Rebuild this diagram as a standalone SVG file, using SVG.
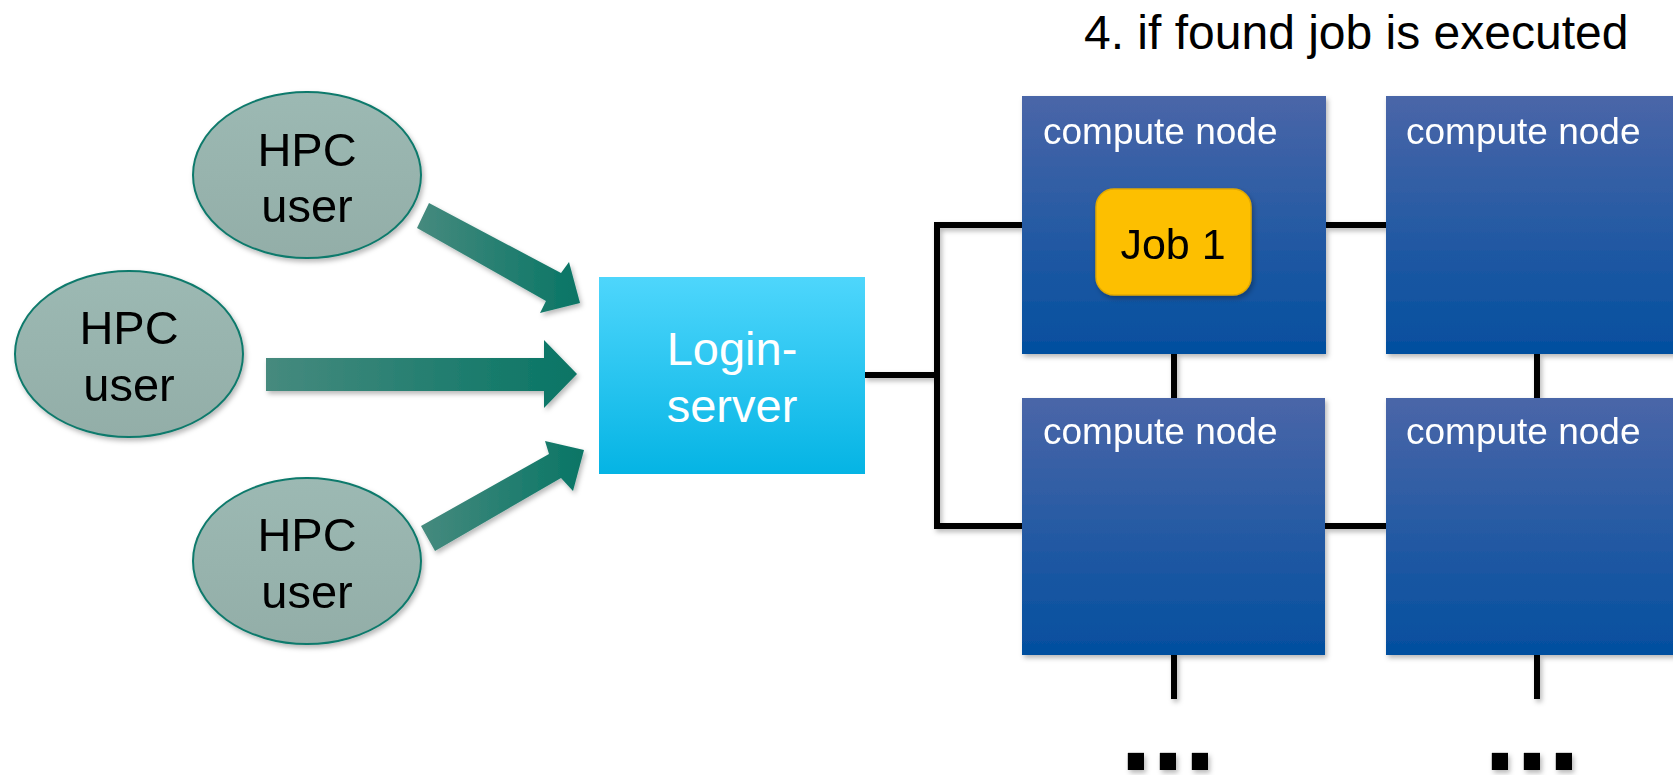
<svg xmlns="http://www.w3.org/2000/svg" width="1673" height="775" viewBox="0 0 1673 775">
  <style>
    .user { fill: url(#userFill); stroke: #117a6c; stroke-width: 2; }
    .utxt { font-family: "Liberation Sans", Arial, sans-serif; font-size: 47px; fill: #000; text-anchor: middle; }
    .ltxt { font-family: "Liberation Sans", Arial, sans-serif; font-size: 47px; fill: #fff; text-anchor: middle; }
    .ctxt { font-family: "Liberation Sans", Arial, sans-serif; font-size: 37px; fill: #fff; }
    .jtxt { font-family: "Liberation Sans", Arial, sans-serif; font-size: 43px; fill: #000; text-anchor: middle; }
    .title { font-family: "Liberation Sans", Arial, sans-serif; font-size: 48px; fill: #000; }
    .dots { font-family: "Liberation Sans", Arial, sans-serif; font-size: 115px; font-weight: bold; fill: #000; text-anchor: middle; }
    .node { fill: url(#nodeFill); }
    .wire { stroke: #000; stroke-width: 6; fill: none; stroke-linecap: butt; }
    .arrow { fill: url(#arrowFill); }
  </style>
  <defs>
    <linearGradient id="userFill" x1="0" y1="0" x2="0" y2="1">
      <stop offset="0" stop-color="#9cb9b3"/>
      <stop offset="1" stop-color="#93aea8"/>
    </linearGradient>
    <linearGradient id="nodeFill" x1="0" y1="0" x2="0" y2="1">
      <stop offset="0" stop-color="#4a66a8"/>
      <stop offset="1" stop-color="#034f9f"/>
    </linearGradient>
    <linearGradient id="loginFill" x1="0" y1="0" x2="0" y2="1">
      <stop offset="0" stop-color="#4ed6fc"/>
      <stop offset="1" stop-color="#05b4e4"/>
    </linearGradient>
    <linearGradient id="arrowFill" x1="0" y1="0" x2="1" y2="0">
      <stop offset="0" stop-color="#468a7e"/>
      <stop offset="1" stop-color="#087565"/>
    </linearGradient>
    <filter id="shadow" x="-10%" y="-10%" width="130%" height="130%">
      <feDropShadow dx="2" dy="3" stdDeviation="2.5" flood-color="#000" flood-opacity="0.28"/>
    </filter>
  </defs>

  <!-- heading -->
  <text class="title" x="1084" y="49">4. if found job is executed</text>

  <!-- network wiring -->
  <g id="connectors" filter="url(#shadow)">
    <polyline class="wire" points="864,375 937,375"/>
    <polyline class="wire" points="1022,225 937,225 937,526 1022,526"/>
    <line class="wire" x1="1326" y1="225" x2="1386" y2="225"/>
    <line class="wire" x1="1325" y1="526" x2="1386" y2="526"/>
    <line class="wire" x1="1174" y1="354" x2="1174" y2="398"/>
    <line class="wire" x1="1537" y1="354" x2="1537" y2="398"/>
    <line class="wire" x1="1174" y1="655" x2="1174" y2="699"/>
    <line class="wire" x1="1537" y1="655" x2="1537" y2="699"/>
    <!-- submission arrows -->
    <polygon class="arrow" points="429,203 561,273 569,262 580,303 540,313 546,301 417,228"/>
    <polygon class="arrow" points="266,358 544,358 544,340 577,374 544,408 544,391 266,391"/>
    <polygon class="arrow" points="421,526 549,454 545,441 584,450 573,491 561,478 435,551"/>
  </g>

  <!-- users -->
  <g id="user-top" filter="url(#shadow)">
    <ellipse class="user" cx="307" cy="175" rx="114" ry="83"/>
    <text class="utxt" x="307" y="166">HPC</text>
    <text class="utxt" x="307" y="222">user</text>
  </g>
  <g id="user-middle" filter="url(#shadow)">
    <ellipse class="user" cx="129" cy="354" rx="114" ry="83"/>
    <text class="utxt" x="129" y="344">HPC</text>
    <text class="utxt" x="129" y="401">user</text>
  </g>
  <g id="user-bottom" filter="url(#shadow)">
    <ellipse class="user" cx="307" cy="561" rx="114" ry="83"/>
    <text class="utxt" x="307" y="551">HPC</text>
    <text class="utxt" x="307" y="608">user</text>
  </g>

  <!-- login server -->
  <g id="login-server">
    <rect x="599" y="277" width="266" height="197" fill="url(#loginFill)"/>
    <text class="ltxt" x="732" y="365">Login-</text>
    <text class="ltxt" x="732" y="422">server</text>
  </g>

  <!-- compute nodes -->
  <g id="node-top-left" filter="url(#shadow)">
    <rect class="node" x="1022" y="96" width="304" height="258"/>
    <text class="ctxt" x="1043" y="144">compute node</text>
  </g>
  <g id="node-top-right" filter="url(#shadow)">
    <rect class="node" x="1386" y="96" width="304" height="258"/>
    <text class="ctxt" x="1406" y="144">compute node</text>
  </g>
  <g id="node-bottom-left" filter="url(#shadow)">
    <rect class="node" x="1022" y="398" width="303" height="257"/>
    <text class="ctxt" x="1043" y="444">compute node</text>
  </g>
  <g id="node-bottom-right" filter="url(#shadow)">
    <rect class="node" x="1386" y="398" width="304" height="257"/>
    <text class="ctxt" x="1406" y="444">compute node</text>
  </g>

  <!-- running job -->
  <g id="job-1" filter="url(#shadow)">
    <rect x="1096" y="189" width="155" height="106" rx="18" ry="18" fill="#fdbf00" stroke="#e2a900" stroke-width="1.5"/>
    <text class="jtxt" x="1173" y="259">Job 1</text>
  </g>

  <!-- continuation marks -->
  <g id="more" filter="url(#shadow)">
    <text class="dots" x="1168" y="770">...</text>
    <text class="dots" x="1532" y="770">...</text>
  </g>
</svg>
